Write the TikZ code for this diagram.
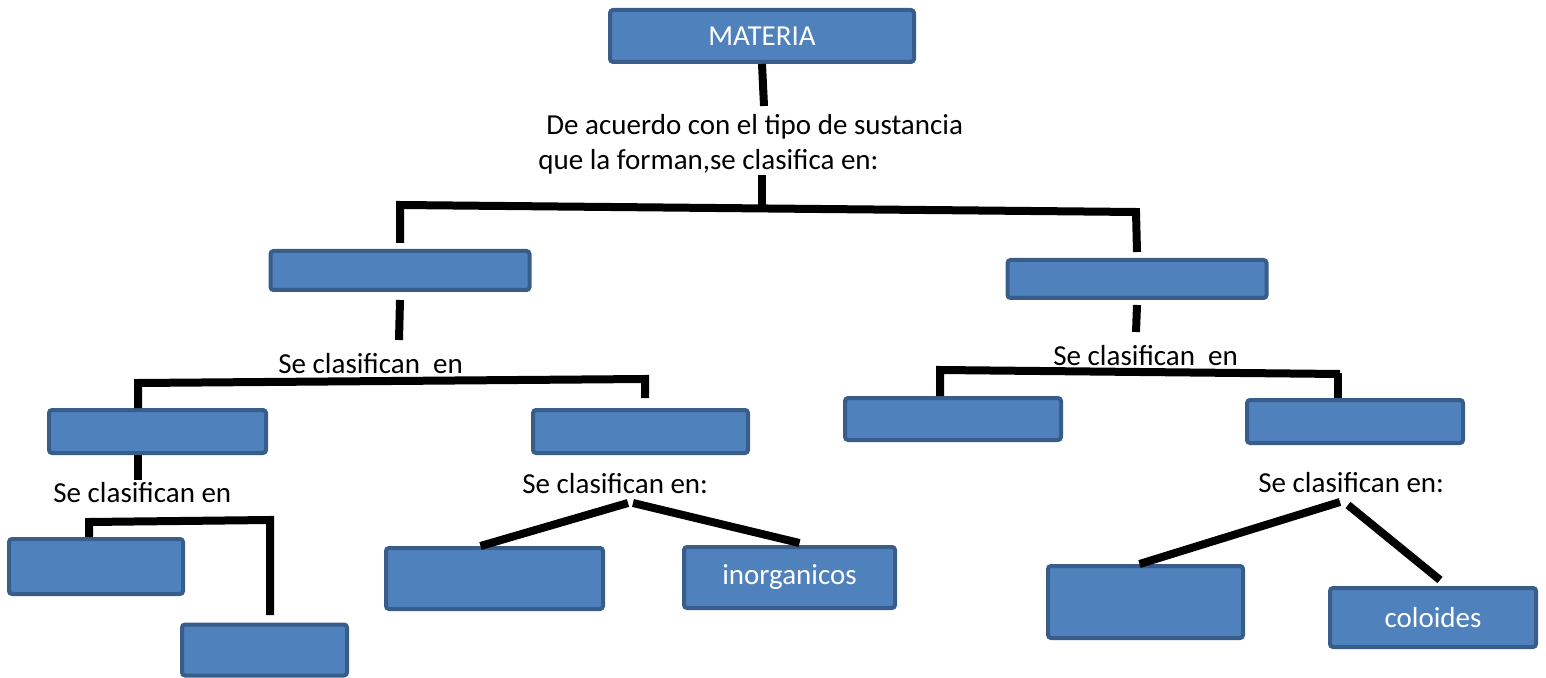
\documentclass[tikz,border=0pt]{standalone}
\usepackage{fontspec}
\setmainfont{Carlito}
\definecolor{boxfill}{HTML}{4F81BD}
\definecolor{boxline}{HTML}{385D8A}
\begin{document}
\begin{tikzpicture}[x=0.5pt, y=-0.5pt,
    box/.style = {draw=boxline, fill=boxfill, line width=2pt, rounded corners=1.5pt,
                  inner sep=0pt, text=white, font=\fontsize{14.5}{17}\selectfont},
    lbl/.style = {anchor=base west, inner sep=0pt, font=\fontsize{14.5}{17}\selectfont},
    conn/.style = {line width=4pt}]
    \useasboundingbox (0,0) rectangle (1546,678);

    % cajas
    \node[box, minimum width=152pt, minimum height=26pt] (materia) at (762,36) {MATERIA};
    \node[box, minimum width=129.5pt, minimum height=19.5pt] (l1) at (400,270.5) {};
    \node[box, minimum width=129.5pt, minimum height=19pt] (r1) at (1137,279) {};
    \node[box, minimum width=108.5pt, minimum height=21.5pt] (ll) at (157.5,431.5) {};
    \node[box, minimum width=107.5pt, minimum height=21.5pt] (lr) at (640.5,431.5) {};
    \node[box, minimum width=108pt, minimum height=21pt] (rl) at (953,419) {};
    \node[box, minimum width=108pt, minimum height=21.5pt] (rr) at (1355,421.5) {};
    \node[box, minimum width=87pt, minimum height=27.5pt] (a) at (96,566.5) {};
    \node[box, minimum width=82.5pt, minimum height=25.5pt] (b) at (264.5,650) {};
    \node[box, minimum width=108.5pt, minimum height=30.5pt] (c) at (494.5,578.5) {};
    \node[box, minimum width=105.5pt, minimum height=30.5pt] (d) at (789.5,577.5) {inorganicos};
    \node[box, minimum width=97.5pt, minimum height=36pt] (e) at (1145.5,602) {};
    \node[box, minimum width=103pt, minimum height=29.5pt] (f) at (1433,617.5) {coloides};

    % textos
    \node[lbl] (t1) at (546,135) {De acuerdo con el tipo de sustancia};
    \node[lbl] (t2) at (538,170) {que la forman,se clasifica en:};
    \node[lbl] (s1) at (278,373) {Se clasifican\ \ en};
    \node[lbl] (s2) at (1053,365) {Se clasifican\ \ en};
    \node[lbl] (s3) at (53,502) {Se clasifican en};
    \node[lbl] (s4) at (522,493) {Se clasifican en:};
    \node[lbl] (s5) at (1258,492) {Se clasifican en:};

    % puntos de las llaves
    \coordinate (m1) at (764,106);
    \coordinate (tl) at (400,205);
    \coordinate (tc) at (762,209);
    \coordinate (tr) at (1136,212);
    \coordinate (p1) at (399,340);
    \coordinate (ql) at (138,383);
    \coordinate (qr) at (645,379);
    \coordinate (qr2) at (645,398);
    \coordinate (p2) at (1136,332);
    \coordinate (rbl) at (940,370);
    \coordinate (rbr) at (1340,374);
    \coordinate (rbr2) at (1338,373);
    \coordinate (p3) at (138,480);
    \coordinate (h1) at (89,522);
    \coordinate (h2) at (270,520);
    \coordinate (h3) at (270,615);
    \coordinate (v1) at (628,503);
    \coordinate (v2) at (633,503);
    \coordinate (w1) at (1340,502);
    \coordinate (w2) at (1348,505);

    % lineas
    \draw[conn] (materia.south) -- (m1);
    \draw[conn] (tc |- t2.south) -- (tc);
    \draw[conn] ([yshift=3pt]l1.north) -- (tl) -- (tr) -- ([yshift=3pt]r1.north);
    \draw[conn] ([yshift=-4pt]l1.south) -- (p1);
    \draw[conn] (ql |- ll.north) -- (ql) -- (qr) -- (qr2);
    \draw[conn] ([yshift=-2.5pt]r1.south) -- (p2);
    \draw[conn] (rbl |- rl.north) -- (rbl) -- (rbr);
    \draw[conn] (rbr2 |- rr.north) -- (rbr2);
    \draw[conn] (ql |- ll.south) -- (p3);
    \draw[conn] (h1 |- a.north) -- (h1) -- (h2) -- (h3);
    \draw[conn] ([xshift=-7pt]c.north) -- (v1);
    \draw[conn] (v2) -- ([xshift=5pt,yshift=1pt]d.north);
    \draw[conn] ([xshift=-3pt]e.north) -- (w1);
    \draw[conn] (w2) -- ([xshift=3.5pt,yshift=3pt]f.north);
\end{tikzpicture}
\end{document}
